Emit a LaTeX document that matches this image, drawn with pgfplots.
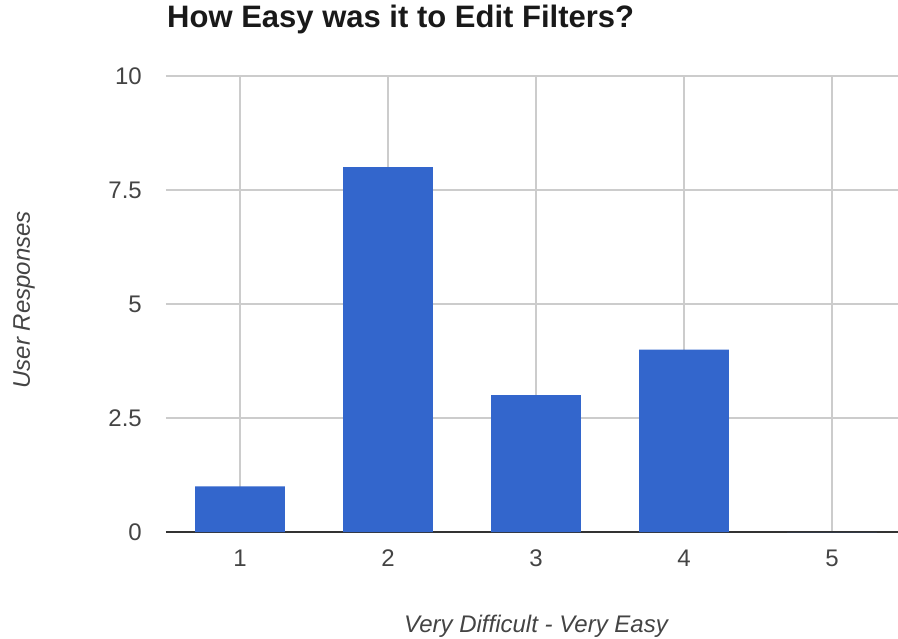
\documentclass[border=0pt]{standalone}
\usepackage{fontspec}
\setmainfont{Liberation Sans}
\usepackage{pgfplots}
\pgfplotsset{compat=1.18}
\definecolor{barblue}{HTML}{3366CC}
\definecolor{gridgray}{HTML}{CCCCCC}
\definecolor{axisgray}{HTML}{333333}
\definecolor{labelgray}{HTML}{444444}

\begin{document}
\begin{tikzpicture}
\begin{axis}[
    at={(0,0)}, anchor=south west,
    scale only axis,
    width=732bp, height=456bp,
    ybar,
    bar width=0.608,
    xmin=0.5, xmax=5.446,
    ymin=0, ymax=10,
    xtick={1,2,3,4,5},
    ytick={0,2.5,5,7.5,10},
    yticklabels={0,2.5,5,7.5,10},
    /pgf/number format/assume math mode=true,
    axis lines*=left,
    axis line style={-},
    y axis line style={draw=none},
    x axis line style={draw=axisgray, line width=1.5bp},
    major tick length=0pt,
    grid=major,
    major grid style={draw=gridgray, line width=1.1bp},
    tick label style={font=\fontsize{24bp}{28bp}\selectfont, text=labelgray, inner sep=0pt},
    yticklabel style={anchor=east, xshift=-24bp},
    xticklabel style={anchor=north, yshift=-18bp},
    title={How Easy was it to Edit Filters?},
    title style={font=\fontsize{31bp}{36bp}\selectfont\bfseries, text=black!90,
        at={(axis description cs:0.0014,1.0943)}, anchor=base west, inner sep=0pt},
    xlabel={Very Difficult - Very Easy},
    xlabel style={font=\fontsize{24bp}{28bp}\selectfont\itshape, text=labelgray,
        at={(axis description cs:0.5055,-0.2193)}, anchor=base, inner sep=0pt},
    ylabel={User Responses},
    ylabel style={font=\fontsize{24bp}{28bp}\selectfont\itshape, text=labelgray,
        at={(axis description cs:-0.186,0.509)}, anchor=base, inner sep=0pt},
]
\addplot[fill=barblue, draw=none] coordinates {
    (1,1)
    (2,8)
    (3,3)
    (4,4)
    (5,0)
};
\end{axis}
\pgfresetboundingbox
\path[use as bounding box] (-166bp,-107bp) rectangle (732bp,532bp);
\end{tikzpicture}
\end{document}
